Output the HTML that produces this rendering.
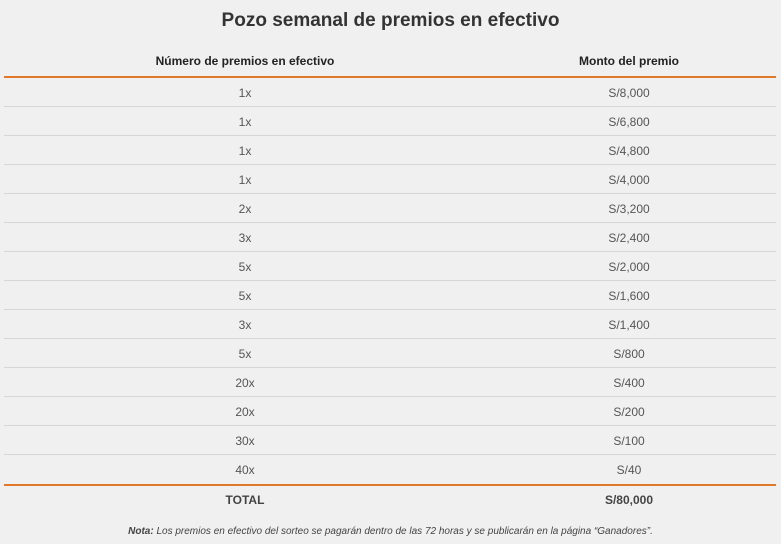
<!DOCTYPE html>
<html><head><meta charset="utf-8"><style>
body{margin:0;width:781px;height:544px;background:#f0f0f0;font-family:"Liberation Sans",sans-serif;position:relative;overflow:hidden}
.t{position:absolute;left:0;width:781px;top:10px;text-align:center;font-size:19px;font-weight:bold;color:#333}
.h{position:absolute;top:54px;font-size:12px;font-weight:bold;color:#222;text-align:center;width:300px}
.ol{position:absolute;left:4px;width:772px;height:2px;background:#e07a2a}
.r{position:absolute;left:4px;width:772px;height:29px;border-bottom:1px solid #d6d6d6;box-sizing:border-box;font-size:12px;color:#555}
.r span{position:absolute;top:8px;width:200px;text-align:center}
.a{left:141px}.b{left:525px}
.n{position:absolute;top:526px;left:0;width:781px;text-align:center;font-size:10px;font-style:italic;color:#444}
</style></head><body>
<div class="t">Pozo semanal de premios en efectivo</div>
<div class="h" style="left:95px">Número de premios en efectivo</div>
<div class="h" style="left:479px">Monto del premio</div>
<div class="ol" style="top:76px"></div>
<div class="r" style="top:78px"><span class="a">1x</span><span class="b">S/8,000</span></div>
<div class="r" style="top:107px"><span class="a">1x</span><span class="b">S/6,800</span></div>
<div class="r" style="top:136px"><span class="a">1x</span><span class="b">S/4,800</span></div>
<div class="r" style="top:165px"><span class="a">1x</span><span class="b">S/4,000</span></div>
<div class="r" style="top:194px"><span class="a">2x</span><span class="b">S/3,200</span></div>
<div class="r" style="top:223px"><span class="a">3x</span><span class="b">S/2,400</span></div>
<div class="r" style="top:252px"><span class="a">5x</span><span class="b">S/2,000</span></div>
<div class="r" style="top:281px"><span class="a">5x</span><span class="b">S/1,600</span></div>
<div class="r" style="top:310px"><span class="a">3x</span><span class="b">S/1,400</span></div>
<div class="r" style="top:339px"><span class="a">5x</span><span class="b">S/800</span></div>
<div class="r" style="top:368px"><span class="a">20x</span><span class="b">S/400</span></div>
<div class="r" style="top:397px"><span class="a">20x</span><span class="b">S/200</span></div>
<div class="r" style="top:426px"><span class="a">30x</span><span class="b">S/100</span></div>
<div class="r" style="top:455px;border-bottom:none"><span class="a">40x</span><span class="b">S/40</span></div>
<div class="ol" style="top:484px"></div>
<div class="r" style="top:486px;border-bottom:none;font-weight:bold;color:#444"><span class="a" style="top:7px">TOTAL</span><span class="b" style="top:7px">S/80,000</span></div>
<div class="n"><b>Nota:</b> Los premios en efectivo del sorteo se pagarán dentro de las 72 horas y se publicarán en la página “Ganadores”.</div>
</body></html>
